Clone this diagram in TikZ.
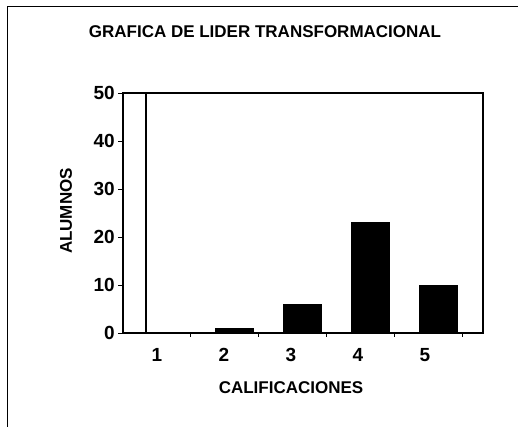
\documentclass[tikz,border=0pt]{standalone}
\usepackage{fontspec}
\setmainfont{Liberation Sans}
\usetikzlibrary{positioning}

\tikzset{
  lbl/.style={font=\bfseries\fontsize{17}{17}\selectfont, inner sep=0pt},
  num/.style={font=\bfseries\fontsize{19}{19}\selectfont, inner sep=0pt},
  bar/.style={fill=black, draw=black},
}

\begin{document}
\begin{tikzpicture}[x=1pt,y=-1pt]
        \useasboundingbox (0,0) rectangle (518,427);
        % outer frame (left and top only)
        \draw[line width=0.8pt] (7,427) -- (7,6) -- (518,6);

        \node[lbl] (title) at (265,32) {GRAFICA DE LIDER TRANSFORMACIONAL};

        % plot area
        \coordinate (o)  at (123,333);
        \coordinate (tr) at (483,93);
        \draw[line width=1.2pt] (o) rectangle (tr);
        \draw[line width=1.6pt] (146,93) -- (146,333);

        % y ticks
        \foreach \v in {0,10,...,50} {
          \draw[line width=0.8pt] (123,333-4.8*\v) -- (118,333-4.8*\v);
          \node[num, anchor=east] (y\v) at (115,333-4.8*\v) {\v};
        }
        % x ticks
        \foreach \t in {0,...,4}
          \draw[line width=0.8pt] (190+68*\t,333) -- (190+68*\t,337);

        % bars
        \foreach \k/\n in {2/1,3/6,4/23,5/10}
          \draw[bar] (147+68*\k-68,333) rectangle (185+68*\k-68,333-4.8*\n);

        % x labels
        \foreach \k in {1,...,5}
          \node[num] (x\k) at (157+67*\k-67,355) {\k};

        \node[lbl] (xlab) at (291,388) {CALIFICACIONES};
        \node[lbl, rotate=90] (ylab) at (66,211) {ALUMNOS};
      \end{tikzpicture}
\end{document}
